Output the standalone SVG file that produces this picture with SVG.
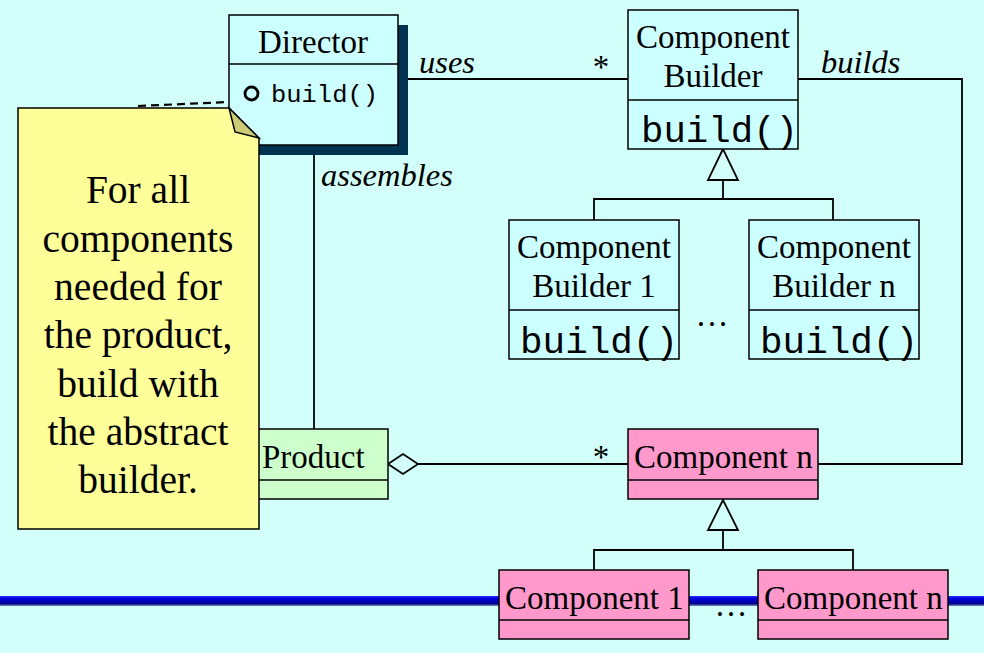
<svg xmlns="http://www.w3.org/2000/svg" width="984" height="653" viewBox="0 0 984 653">
<defs>
<linearGradient id="bar" x1="0" y1="0" x2="0" y2="1">
<stop offset="0" stop-color="#2a2aff"/>
<stop offset="0.25" stop-color="#0000e0"/>
<stop offset="0.75" stop-color="#000090"/>
<stop offset="1" stop-color="#7090b0"/>
</linearGradient>
<style>
.box{stroke:#000;stroke-width:1.5}
.cyan{fill:#ccffff}
.pink{fill:#ff99cc}
.green{fill:#ccffcc}
.ln{stroke:#000;stroke-width:1.8;fill:none}
.t{font-family:"Liberation Serif","Times New Roman",serif;font-size:33px;fill:#000}
.it{font-family:"Liberation Serif","Times New Roman",serif;font-size:32.5px;font-style:italic;fill:#000}
.m{font-family:"Liberation Mono","Courier New",monospace;fill:#000}
.note{font-family:"Liberation Serif","Times New Roman",serif;font-size:39.5px;fill:#000;text-anchor:middle}
</style>
</defs>
<rect width="984" height="653" fill="#d2fffa"/>
<rect x="0" y="596" width="984" height="10" fill="url(#bar)"/>

<g id="connectors">
<line class="ln" x1="408" y1="79" x2="628" y2="79"/>
<polyline class="ln" points="798,79 962,79 962,464 818,464"/>
<line class="ln" x1="314" y1="155" x2="314" y2="429"/>
<line class="ln" x1="418" y1="464" x2="628" y2="464"/>
<polygon points="388,464 403,454 418,464 403,474" fill="#d2fffa" stroke="#000" stroke-width="1.8"/>
<polyline class="ln" points="594,220 594,199 833,199 833,220"/>
<line class="ln" x1="723" y1="180" x2="723" y2="199"/>
<polygon points="723,149 708,180 738,180" fill="#d2fffa" stroke="#000" stroke-width="1.8"/>
<polyline class="ln" points="594,570 594,550 853,550 853,570"/>
<line class="ln" x1="723" y1="530" x2="723" y2="550"/>
<polygon points="723,500 708,530 738,530" fill="#d2fffa" stroke="#000" stroke-width="1.8"/>
<line x1="138" y1="106" x2="229" y2="102" stroke="#000" stroke-width="2.2" stroke-dasharray="8,5"/>
<text class="it" x="419" y="73">uses</text>
<text class="it" x="821" y="73">builds</text>
<text class="it" x="321" y="186">assembles</text>
<text class="t" x="601" y="78" text-anchor="middle" font-size="28">*</text>
<text class="t" x="601" y="468" text-anchor="middle" font-size="28">*</text>
<text class="t" x="712" y="326" text-anchor="middle" font-size="30">…</text>
<text class="t" x="731" y="616" text-anchor="middle" font-size="30">…</text>
</g>

<g id="director">
<rect x="239" y="25" width="169" height="130" fill="#003350"/>
<rect class="box cyan" x="229" y="15" width="169" height="130"/>
<line class="box" x1="229" y1="64" x2="398" y2="64"/>
<text class="t" x="313" y="53" text-anchor="middle">Director</text>
<circle cx="251.5" cy="93.5" r="6.5" fill="none" stroke="#000" stroke-width="2.8"/>
<text class="m" x="271" y="102" font-size="24" textLength="107" lengthAdjust="spacingAndGlyphs">build()</text>
</g>

<g id="component-builder">
<rect class="box cyan" x="628" y="10" width="170" height="139"/>
<line class="box" x1="628" y1="100" x2="798" y2="100"/>
<text class="t" x="713" y="48" text-anchor="middle">Component</text>
<text class="t" x="713" y="87" text-anchor="middle">Builder</text>
<text class="m" x="641" y="142" font-size="37" textLength="157" lengthAdjust="spacingAndGlyphs">build()</text>
</g>

<g id="component-builder-1">
<rect class="box cyan" x="509" y="220" width="170" height="139"/>
<line class="box" x1="509" y1="310" x2="679" y2="310"/>
<text class="t" x="594" y="258" text-anchor="middle">Component</text>
<text class="t" x="594" y="297" text-anchor="middle">Builder 1</text>
<text class="m" x="520" y="353" font-size="37" textLength="158" lengthAdjust="spacingAndGlyphs">build()</text>
</g>

<g id="component-builder-n">
<rect class="box cyan" x="749" y="220" width="170" height="139"/>
<line class="box" x1="749" y1="310" x2="919" y2="310"/>
<text class="t" x="834" y="258" text-anchor="middle">Component</text>
<text class="t" x="834" y="297" text-anchor="middle">Builder n</text>
<text class="m" x="760" y="353" font-size="37" textLength="158" lengthAdjust="spacingAndGlyphs">build()</text>
</g>

<g id="product">
<rect class="box green" x="258" y="429" width="130" height="70"/>
<line class="box" x1="258" y1="480" x2="388" y2="480"/>
<text class="t" x="262" y="468">Product</text>
</g>

<g id="component-n-mid">
<rect class="box pink" x="628" y="429" width="190" height="70"/>
<line class="box" x1="628" y1="480" x2="818" y2="480"/>
<text class="t" x="634" y="468">Component n</text>
</g>

<g id="component-1">
<rect class="box pink" x="499" y="570" width="190" height="69"/>
<line class="box" x1="499" y1="620" x2="689" y2="620"/>
<text class="t" x="505" y="609">Component 1</text>
</g>

<g id="component-n">
<rect class="box pink" x="758" y="570" width="190" height="69"/>
<line class="box" x1="758" y1="620" x2="948" y2="620"/>
<text class="t" x="764" y="609">Component n</text>
</g>

<g id="note">
<polygon points="18,108 229,108 259,138 259,529 18,529" fill="#ffff99" stroke="#000" stroke-width="1.5"/>
<polygon points="229,108 235,132 259,138" fill="#cccc77" stroke="#000" stroke-width="1.5"/>
<text class="note" x="138" y="203">For all</text>
<text class="note" x="138" y="252">components</text>
<text class="note" x="138" y="300">needed for</text>
<text class="note" x="138" y="348">the product,</text>
<text class="note" x="138" y="397">build with</text>
<text class="note" x="138" y="445">the abstract</text>
<text class="note" x="138" y="493">builder.</text>
</g>
</svg>
